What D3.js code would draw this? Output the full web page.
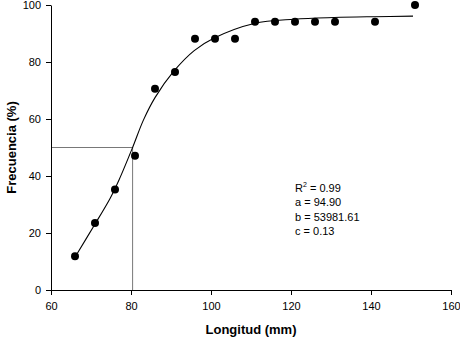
<!DOCTYPE html>
<html>
<head>
<meta charset="utf-8">
<script src="https://cdn.jsdelivr.net/npm/d3@7"></script>
<style>
  body { margin: 0; background: #fff; }
  svg { display: block; font-family: "Liberation Sans", Arial, sans-serif; }
</style>
</head>
<body>
<div id="chart"></div>
<script>
const width = 460, height = 341;
const margin = { top: 5, right: 9, bottom: 51, left: 51 };

// observed points
const longitud = [66, 71, 76, 81, 86, 91, 96, 101, 106, 111, 116, 121, 126, 131, 141, 151];
const frecuencia = [11.8, 23.5, 35.3, 47.1, 70.6, 76.5, 88.2, 88.2, 88.2, 94.1, 94.1, 94.1, 94.1, 94.1, 94.1, 100];

// fitted curve
const curveX = [66.6, 70.6, 74.8, 77.0, 80.4, 83.1, 86.0, 90.6, 95.8, 100.8, 110.8, 120.8, 130.8, 140.8, 150.5];
const curveY = [12.9, 22.2, 32.2, 38.6, 50.0, 59.6, 67.5, 76.6, 84.0, 88.4, 93.5, 95.0, 95.6, 95.9, 96.1];

// 50% reference
const refY = 50, refX = 80.4;

const xTicks = [60, 80, 100, 120, 140, 160];
const yTicks = [0, 20, 40, 60, 80, 100];
const stats = ["a = 94.90", "b = 53981.61", "c = 0.13"];

const svg = d3.select("#chart").append("svg")
    .attr("width", width)
    .attr("height", height);

const x = d3.scaleLinear().domain([60, 160]).range([margin.left, width - margin.right]);
const y = d3.scaleLinear().domain([0, 100]).range([height - margin.bottom, margin.top]);

// reference lines at 50%
svg.append("path")
    .attr("fill", "none")
    .attr("stroke", "#555")
    .attr("stroke-width", 0.8)
    .attr("d", `M${x(60)},${y(refY)}H${x(refX)}V${y(0)}`);

// fitted curve
const line = d3.line().x((d) => x(d[0])).y((d) => y(d[1])).curve(d3.curveCatmullRom);
svg.append("path")
    .datum(curveX.map((v, i) => [v, curveY[i]]))
    .attr("fill", "none")
    .attr("stroke", "#000")
    .attr("stroke-width", 1.1)
    .attr("d", line);

// points
svg.append("g")
    .selectAll("circle")
    .data(longitud.map((v, i) => [v, frecuencia[i]]))
    .join("circle")
    .attr("cx", (d) => x(d[0]))
    .attr("cy", (d) => y(d[1]))
    .attr("r", 4)
    .attr("fill", "#000");

// axes
const xAxis = svg.append("g")
    .attr("transform", `translate(0,${y(0)})`)
    .call(d3.axisBottom(x).tickValues(xTicks).tickSize(5).tickPadding(7).tickSizeOuter(0));
const yAxis = svg.append("g")
    .attr("transform", `translate(${x(60)},0)`)
    .call(d3.axisLeft(y).tickValues(yTicks).tickSize(5).tickPadding(5).tickSizeOuter(0));
[xAxis, yAxis].forEach((g) => {
    g.select(".domain").attr("stroke", "#000");
    g.selectAll("line").attr("stroke", "#000");
    g.selectAll("text").attr("font-size", 11).attr("fill", "#000")
        .attr("font-family", "Liberation Sans, Arial, sans-serif");
});

// axis titles
svg.append("text")
    .attr("x", (x(60) + x(160)) / 2)
    .attr("y", 334)
    .attr("text-anchor", "middle")
    .style("font-size", "13px")
    .style("font-weight", "bold")
    .text("Longitud (mm)");

svg.append("text")
    .attr("transform", `translate(16,${(y(0) + y(100)) / 2}) rotate(-90)`)
    .attr("text-anchor", "middle")
    .style("font-size", "13px")
    .style("font-weight", "bold")
    .text("Frecuencia (%)");

// fit statistics
const statsG = svg.append("g").style("font-size", "11px");
const r2 = statsG.append("text").attr("x", 295).attr("y", 192);
r2.append("tspan").text("R");
r2.append("tspan").attr("dy", -5).style("font-size", "7px").text("2");
r2.append("tspan").attr("dy", 5).text(" = 0.99");
statsG.selectAll(".stat")
    .data(stats)
    .join("text")
    .attr("class", "stat")
    .attr("x", 295)
    .attr("y", (d, i) => 206 + i * 14.5)
    .text((d) => d);
</script>
</body>
</html>
